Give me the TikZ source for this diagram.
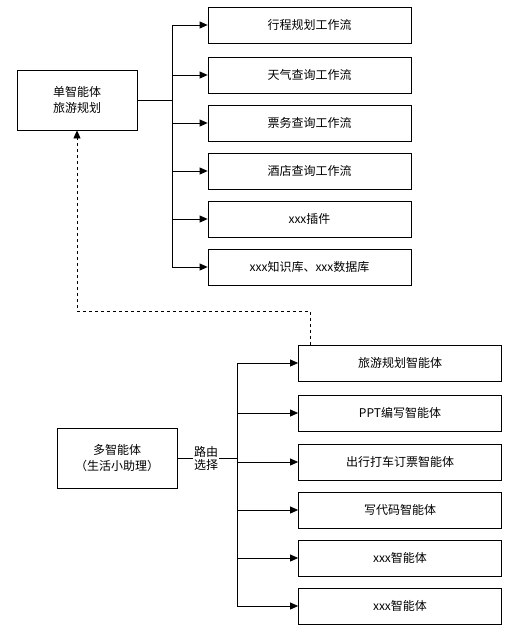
\documentclass[tikz,border=0pt]{standalone}
\usepackage{fontspec}
\setmainfont{Noto Sans CJK SC}
\usetikzlibrary{arrows.meta}
\begin{document}
\begin{tikzpicture}[x=1pt,y=-1pt,
  box/.style={draw,line width=0.8pt,minimum height=36pt,minimum width=203pt,inner sep=0pt,font=\fontsize{12}{15}\selectfont,anchor=center},
  bigbox/.style={draw,line width=0.8pt,minimum height=60pt,minimum width=120pt,inner sep=0pt,align=center,font=\fontsize{12}{16}\selectfont},
  conn/.style={line width=0.8pt,-{Triangle[length=8pt,width=7pt]}},
  line/.style={line width=0.8pt}]
\useasboundingbox (0,0) rectangle (522,635);
\node[bigbox] (single) at (77,100) {单智能体\\旅游规划};
\node[box] (a1) at (309.5,25) {行程规划工作流};
\node[box] (a2) at (309.5,75) {天气查询工作流};
\node[box] (a3) at (309.5,123) {票务查询工作流};
\node[box] (a4) at (309.5,171) {酒店查询工作流};
\node[box] (a5) at (309.5,219) {xxx插件};
\node[box] (a6) at (309.5,267) {xxx知识库、xxx数据库};
\coordinate (ta) at (172,100);
\draw[line] (single.east) -- (ta);
\foreach \i in {1,...,6} {\draw[conn] (ta) |- (a\i.west);}

\node[bigbox] (multi) at (117,458) {多智能体\\（生活小助理）};
\node[box] (b1) at (400,363) {旅游规划智能体};
\node[box] (b2) at (400,413) {PPT编写智能体};
\node[box] (b3) at (400,462) {出行打车订票智能体};
\node[box] (b4) at (400,510) {写代码智能体};
\node[box] (b5) at (400,558) {xxx智能体};
\node[box] (b6) at (400,606) {xxx智能体};
\coordinate (tb) at (237,458);
\draw[line] (multi.east) -- (tb);
\foreach \i in {1,...,6} {\draw[conn] (tb) |- (b\i.west);}
\node[fill=white,inner sep=1pt,align=center,font=\fontsize{12}{13}\selectfont] (route) at (206,458) {路由\\选择};

\coordinate (d1) at (310,311);
\coordinate (d2) at (77,311);
\draw[line,dashed,-{Triangle[length=8pt,width=7pt]}] (b1.north -| d1) -- (d1) -- (d2) -- (single.south);
\end{tikzpicture}
\end{document}
